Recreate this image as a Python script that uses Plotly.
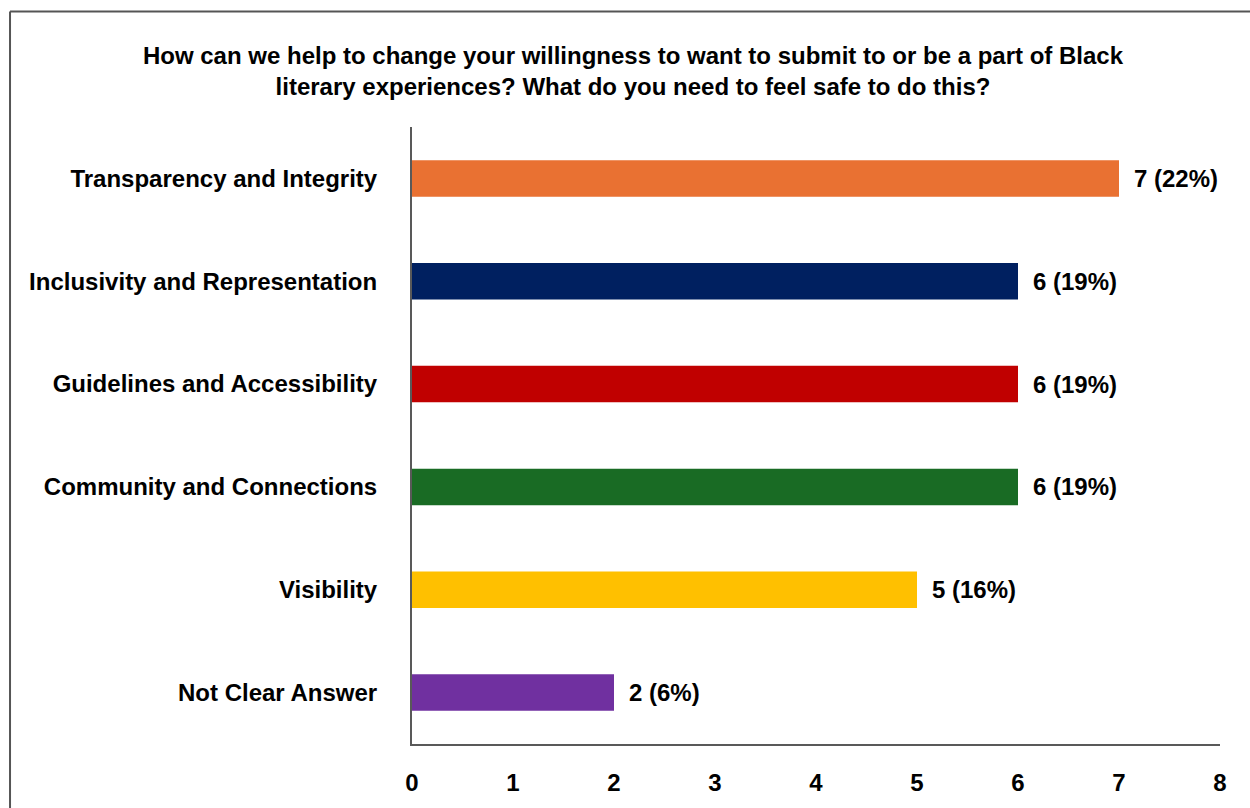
import plotly.graph_objects as go

# Survey responses (32 total)
categories = [
    "Transparency and Integrity",
    "Inclusivity and Representation",
    "Guidelines and Accessibility",
    "Community and Connections",
    "Visibility",
    "Not Clear Answer",
]
counts = [7, 6, 6, 6, 5, 2]
percents = ["22%", "19%", "19%", "19%", "16%", "6%"]
colors = ["#E97132", "#002060", "#C00000", "#196B24", "#FFC000", "#7030A0"]
x_ticks = [0, 1, 2, 3, 4, 5, 6, 7, 8]

title_text = ("How can we help to change your willingness to want to submit to or be a part of Black"
              "<br>literary experiences? What do you need to feel safe to do this?")

narrow = "Liberation Sans Narrow, Arial Narrow, Liberation Sans, Arial, sans-serif"
regular = "Liberation Sans, Arial, sans-serif"

fig = go.Figure()
fig.add_trace(go.Bar(
    y=categories,
    x=counts,
    orientation="h",
    marker=dict(color=colors, line=dict(width=0)),
    width=0.355,
    hoverinfo="skip",
))

# Value labels to the right of each bar
for cat, n, p in zip(categories, counts, percents):
    fig.add_annotation(
        x=n, y=cat, xref="x", yref="y",
        text=f"<b>{n} ({p})</b>",
        showarrow=False, xanchor="left", yanchor="middle", xshift=13,
        font=dict(family=regular, size=24, color="#000000"),
    )

# Outer frame: top and left edges
frame = dict(color="#555555", width=2)
fig.add_shape(type="line", xref="paper", yref="paper",
              x0=-0.4975, x1=1.2, y0=1.187, y1=1.187, line=frame, layer="below")
fig.add_shape(type="line", xref="paper", yref="paper",
              x0=-0.4975, x1=-0.4975, y0=-0.2, y1=1.187, line=frame, layer="below")

fig.update_layout(
    width=1250, height=808,
    margin=dict(l=412, r=30, t=127, b=59),
    paper_bgcolor="white", plot_bgcolor="white",
    showlegend=False,
    title=dict(
        text=f"<b>{title_text}</b>",
        x=0.5064, xanchor="center", xref="container",
        y=0.9214, yanchor="middle", yref="container",
        font=dict(family=narrow, size=24, color="#000000"),
    ),
    xaxis=dict(
        range=[0, 8], tickvals=x_ticks,
        ticktext=[f"<b>{v}</b>" for v in x_ticks],
        showgrid=False, zeroline=False,
        showline=True, linecolor="#595959", linewidth=2,
        ticks="", ticklabelstandoff=16,
        tickfont=dict(family=regular, size=24, color="#000000"),
        fixedrange=True,
    ),
    yaxis=dict(
        categoryorder="array", categoryarray=categories[::-1],
        tickvals=categories,
        ticktext=[f"<b>{c}</b>" for c in categories],
        showgrid=False, zeroline=False,
        showline=True, linecolor="#595959", linewidth=2,
        ticks="", ticklabelstandoff=28,
        tickfont=dict(family=narrow, size=24, color="#000000"),
        fixedrange=True,
    ),
)

fig.write_html("out.html")
